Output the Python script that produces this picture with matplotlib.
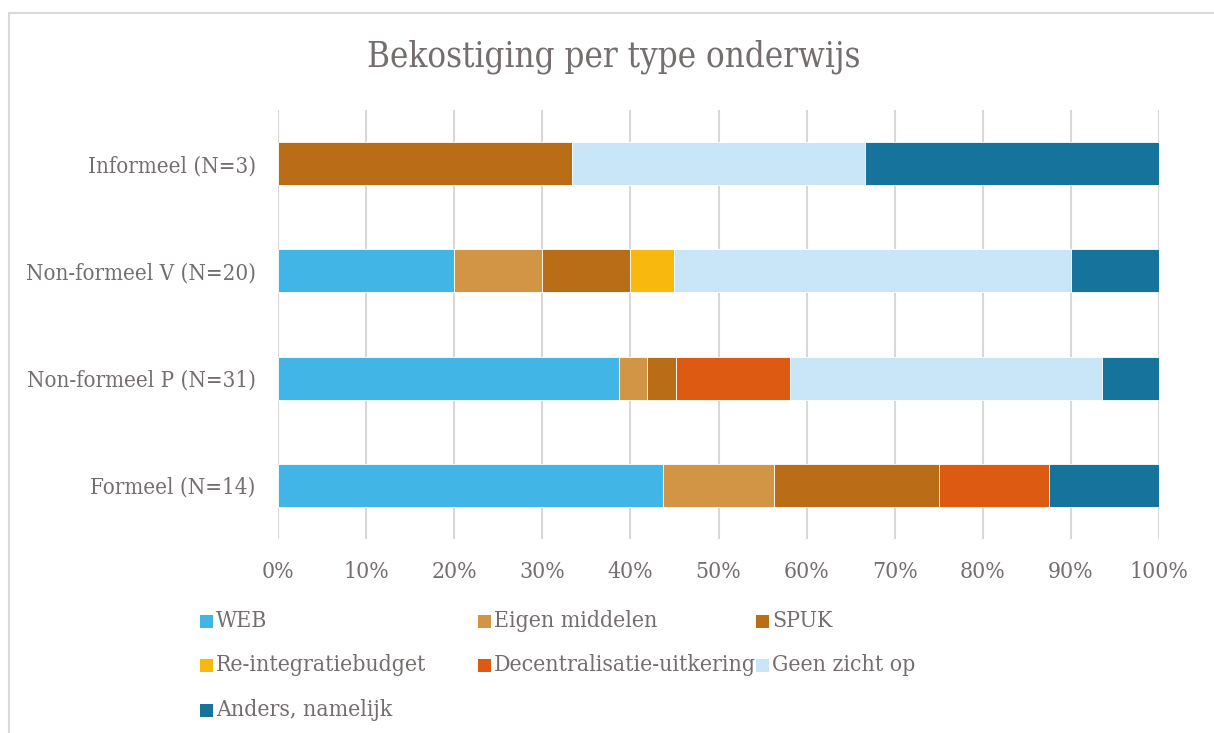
import matplotlib
matplotlib.use("Agg")
import matplotlib.pyplot as plt
from matplotlib.patches import Rectangle
import numpy as np

categories = ["Formeel (N=14)", "Non-formeel P (N=31)", "Non-formeel V (N=20)", "Informeel (N=3)"]
series = ["WEB", "Eigen middelen", "SPUK", "Re-integratiebudget",
          "Decentralisatie-uitkering", "Geen zicht op", "Anders, namelijk"]
# counts per category (bottom to top): Formeel, Non-formeel P, Non-formeel V, Informeel
web = [7, 12, 4, 0]
eigen = [2, 1, 2, 0]
spuk = [3, 1, 2, 1]
reint = [0, 0, 1, 0]
decentr = [2, 4, 0, 0]
geen = [0, 11, 9, 1]
anders = [2, 2, 2, 1]
colors = ["#41b5e6", "#d29545", "#b96d16", "#f9b80e", "#dc5a12", "#c8e6f7", "#16749c"]
xtick_labels = ["0%", "10%", "20%", "30%", "40%", "50%", "60%", "70%", "80%", "90%", "100%"]

txt = "#756e6e"
plt.rcParams["font.family"] = ["DejaVu Serif"]
plt.rcParams["font.stretch"] = "condensed"

fig = plt.figure(figsize=(12.14, 7.33), dpi=100)
fig.patch.set_facecolor("white")
fig.add_artist(Rectangle((9/1214, -0.1), 1.2, 1 - 13/733 + 0.1, transform=fig.transFigure,
                         fill=False, edgecolor="#d9d9d9", linewidth=1.5))

ax = fig.add_axes([278/1214, 1 - 539/733, 881/1214, (539 - 110)/733])
data = np.array([web, eigen, spuk, reint, decentr, geen, anders], dtype=float)
totals = data.sum(axis=0)
pct = data / totals
y = np.arange(len(categories))
left = np.zeros(len(categories))
for vals, c, name in zip(pct, colors, series):
    ax.barh(y, vals, left=left, height=0.4, color=c, edgecolor="white", linewidth=0.6,
            label=name, zorder=3)
    left += vals

ax.set_xlim(0, 1)
ax.set_ylim(-0.5, len(categories) - 0.5)
ax.set_xticks(np.linspace(0, 1, 11))
ax.set_xticklabels(xtick_labels)
ax.set_yticks(y)
ax.set_yticklabels(categories)
ax.grid(axis="x", color="#dcd7d7", linewidth=1.5, zorder=0)
ax.set_axisbelow(True)
for s in ax.spines.values():
    s.set_visible(False)
ax.tick_params(axis="both", length=0, colors=txt)
ax.tick_params(axis="x", pad=16, labelsize=16.5)
ax.tick_params(axis="y", pad=16, labelsize=16)

fig.text(614/1214, 1 - 57/733, "Bekostiging per type onderwijs", ha="center", va="center",
         fontsize=25, color=txt)

col_x = [200, 478, 756]
row_y = [621, 665, 710]
for i, (name, c) in enumerate(zip(series, colors)):
    r, k = divmod(i, 3)
    x0 = col_x[k]
    yc = row_y[r]
    fig.add_artist(Rectangle((x0 / 1214, 1 - (yc + 6.5) / 733), 13 / 1214, 13 / 733,
                             transform=fig.transFigure, facecolor=c, edgecolor="none"))
    fig.text((x0 + 16) / 1214, 1 - yc / 733, name, ha="left", va="center",
             fontsize=16.5, color=txt)

fig.savefig("out.png", dpi=100, facecolor="white")
